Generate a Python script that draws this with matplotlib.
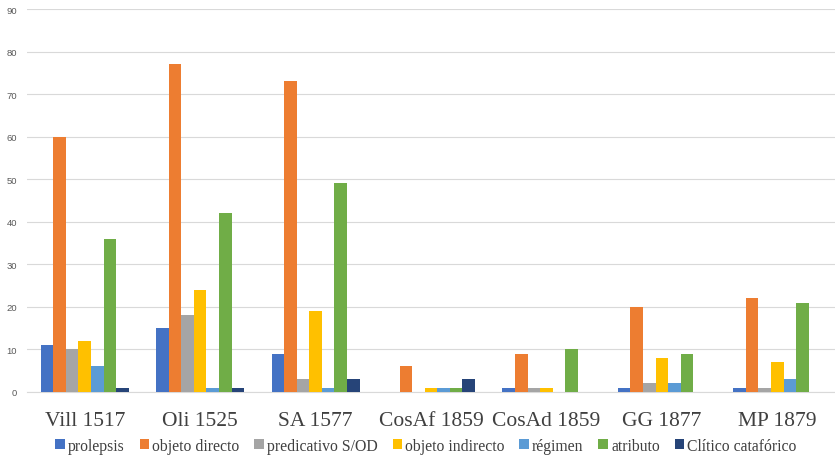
import matplotlib
matplotlib.use("Agg")
import matplotlib.pyplot as plt
import numpy as np
from matplotlib.patches import Patch

categories = ["Vill 1517", "Oli 1525", "SA 1577", "CosAf 1859", "CosAd 1859", "GG 1877", "MP 1879"]
series_names = ["prolepsis", "objeto directo", "predicativo S/OD", "objeto indirecto",
                "régimen", "atributo", "Clítico catafórico"]
prolepsis = [11, 15, 9, 0, 1, 1, 1]
objeto_directo = [60, 77, 73, 6, 9, 20, 22]
predicativo = [10, 18, 3, 0, 1, 2, 1]
objeto_indirecto = [12, 24, 19, 1, 1, 8, 7]
regimen = [6, 1, 1, 1, 0, 2, 3]
atributo = [36, 42, 49, 1, 10, 9, 21]
clitico = [1, 1, 3, 3, 0, 0, 0]
series = [prolepsis, objeto_directo, predicativo, objeto_indirecto, regimen, atributo, clitico]
colors = ["#4472C4", "#ED7D31", "#A5A5A5", "#FFC000", "#5B9BD5", "#70AD47", "#264478"]
yticks = [0, 10, 20, 30, 40, 50, 60, 70, 80, 90]

W, H = 835, 456
fig = plt.figure(figsize=(W / 100, H / 100), dpi=100)
ax = fig.add_axes([27 / W, 63 / H, 808 / W, 383 / H])

x = np.arange(len(categories))
n = len(series)
bw = 0.109
for i, (vals, c) in enumerate(zip(series, colors)):
    ax.bar(x + (i - (n - 1) / 2) * bw, vals, width=bw, color=c, label=series_names[i],
           zorder=3, linewidth=0)

ax.set_xlim(-0.5, len(categories) - 0.5)
ax.set_ylim(0, 90)
ax.set_yticks(yticks)
ax.set_yticklabels([str(t) for t in yticks], fontsize=6.8, color="#595959",
                   family="Liberation Sans")
ax.yaxis.grid(True, color="#D9D9D9", linewidth=0.8, zorder=0)
ax.set_axisbelow(True)
for s in ["top", "right", "left"]:
    ax.spines[s].set_visible(False)
ax.spines["bottom"].set_color("#D9D9D9")
ax.tick_params(axis="y", length=0, pad=7)
ax.tick_params(axis="x", length=0, pad=14)
ax.set_xticks(x)
ax.set_xticklabels(categories, fontsize=15.5, family="Liberation Serif", color="#404040")

handles = [Patch(facecolor=c, edgecolor="none") for c in colors]
fig.legend(handles, series_names, loc="center", bbox_to_anchor=(426 / W, 9 / H), ncol=7,
           frameon=False, prop={"family": "Liberation Serif", "size": 11.3},
           handlelength=0.6, handleheight=0.6, handletextpad=0.2, columnspacing=0.95,
           labelcolor="#404040")

fig.savefig("out.png", dpi=100)
